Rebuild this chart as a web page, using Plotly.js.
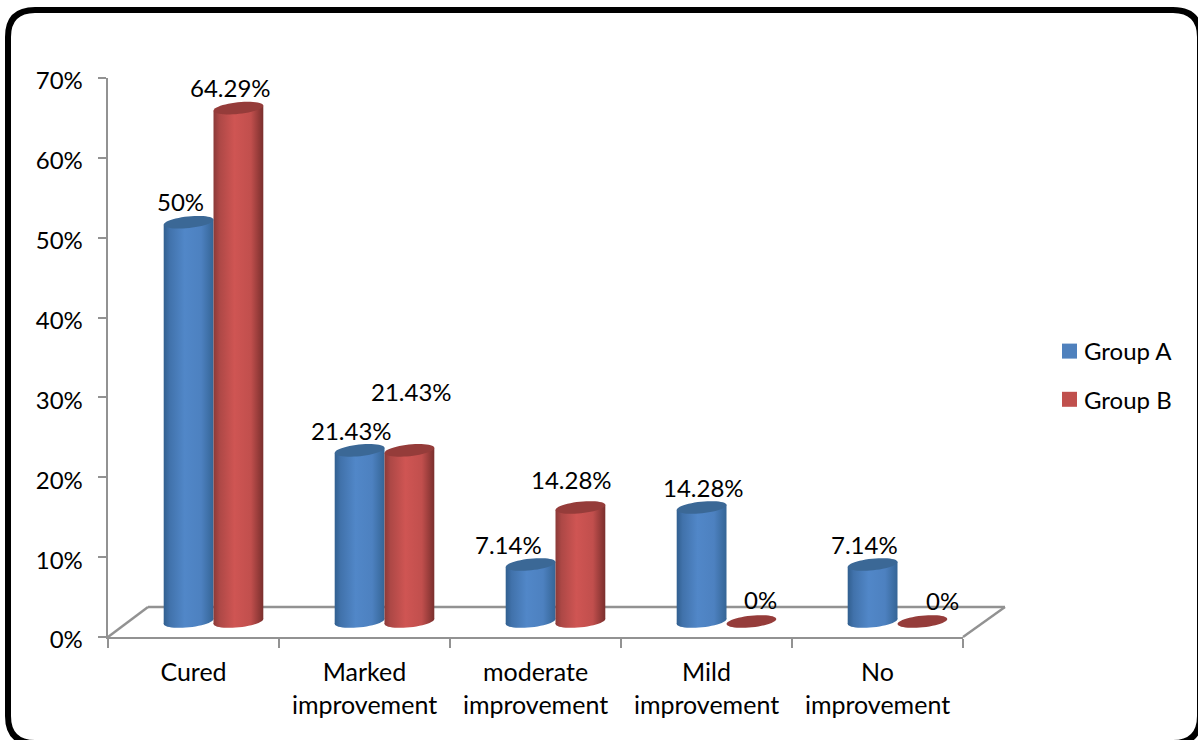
<!DOCTYPE html>
<html>
<head>
<meta charset="utf-8">
<script src="https://cdn.plot.ly/plotly-3.0.1.min.js"></script>
<style>html,body{margin:0;padding:0;background:#fff;overflow:hidden}</style>
</head>
<body>
<div id="chart" style="width:1198px;height:740px"></div>
<script>
// Treatment outcome by group, in percent
const categories = ['Cured', 'Marked<br>improvement', 'moderate<br>improvement', 'Mild<br>improvement', 'No<br>improvement'];
const groupA = [50, 21.43, 7.14, 14.28, 7.14];
const groupB = [64.29, 21.43, 14.28, 0, 0];

// Value-label offsets from the centre of each cylinder's top, in pixels
const labelDxA = [-8, -8, -22, 2, -8];
const labelDyA = [21, 20, 20, 20, 20];
const labelDxB = [-8, 2, -9, 9, 20];
const labelDyB = [21, 59, 28, 22, 21];

const W = 1198, H = 740;
const plot = {l: 108, r: 963, t: 78, b: 637};
const px = x => (x - plot.l) / (plot.r - plot.l);
const py = y => (plot.b - y) / (plot.b - plot.t);

const BLUE = '#4f81bd', RED = '#c0504d', BLUE_TOP = '#3b6896', RED_TOP = '#953c3a';
const AXIS = '#929292';
const FONT = {family: 'Lato, Carlito, sans-serif', size: 24, color: '#000'};
const CATEGORY_FONT = {family: 'Lato, Carlito, sans-serif', size: 25, color: '#000'};

// Cylinder geometry: half bar width, and how the axes are nudged to sit on the 3D floor
const unitPx = plot.r - plot.l;
const bandPx = unitPx / 5;
const halfBar = 24.9;
const ELL_A = 25, ELL_B = 5.8, ELL_TILT = 6 * Math.PI / 180;
const floorShiftX = 20 / bandPx;
const floorShiftY = 15.5 / ((plot.b - plot.t) / 70);

function ellipsePath() {
  const pts = [];
  for (let k = 0; k < 48; k++) {
    const t = k / 48 * 2 * Math.PI;
    const x = ELL_A * Math.cos(ELL_TILT) * Math.cos(t) - ELL_B * Math.sin(ELL_TILT) * Math.sin(t);
    const y = ELL_A * Math.sin(ELL_TILT) * Math.cos(t) + ELL_B * Math.cos(ELL_TILT) * Math.sin(t);
    pts.push((k ? 'L' : 'M') + x.toFixed(2) + ',' + y.toFixed(2));
  }
  return pts.join(' ') + ' Z';
}

function ellipseAt(i, side, value, fill, layer) {
  return {
    type: 'path', xref: 'x2', yref: 'y2', layer: layer,
    xsizemode: 'pixel', ysizemode: 'pixel',
    xanchor: i + side * halfBar / bandPx, yanchor: value,
    path: ellipsePath(), fillcolor: fill, line: {width: 0}
  };
}

function floorLine(x0, y0, x1, y1) {
  return {type: 'line', xref: 'paper', yref: 'paper', layer: 'below',
    x0: px(x0), y0: py(y0), x1: px(x1), y1: py(y1), line: {color: AXIS, width: 2.4}};
}

// Rounded black frame around the whole chart
function framePath() {
  const x0 = 8, y0 = 10, x1 = 1200, y1 = 743, r = 27;
  const p = (x, y) => px(x) + ',' + py(y);
  return 'M' + p(x0 + r, y0) + ' L' + p(x1 - r, y0) +
    ' Q' + p(x1, y0) + ' ' + p(x1, y0 + r) + ' L' + p(x1, y1 - r) +
    ' Q' + p(x1, y1) + ' ' + p(x1 - r, y1) + ' L' + p(x0 + r, y1) +
    ' Q' + p(x0, y1) + ' ' + p(x0, y1 - r) + ' L' + p(x0, y0 + r) +
    ' Q' + p(x0, y0) + ' ' + p(x0 + r, y0) + ' Z';
}

const shapes = [
  {type: 'path', xref: 'paper', yref: 'paper', layer: 'below', path: framePath(),
   line: {color: '#000', width: 6}, fillcolor: 'rgba(0,0,0,0)'},
  floorLine(148, 607, 1005, 607),
  floorLine(108, 637, 148, 607),
  floorLine(963, 637, 1005, 607)
];

// Cylinder bottoms sit under the bars, and take the same shading
const bottomsA = [], bottomsB = [];
categories.forEach((c, i) => {
  if (groupA[i] > 0) { bottomsA.push(shapes.length); shapes.push(ellipseAt(i, -1, 0, BLUE, 'below')); }
  if (groupB[i] > 0) { bottomsB.push(shapes.length); shapes.push(ellipseAt(i, 1, 0, RED, 'below')); }
});
// Cylinder tops
categories.forEach((c, i) => {
  shapes.push(ellipseAt(i, -1, groupA[i], BLUE_TOP, 'above'));
  shapes.push(ellipseAt(i, 1, groupB[i], RED_TOP, 'above'));
});

const annotations = [];
categories.forEach((c, i) => {
  annotations.push({xref: 'x2', yref: 'y2', x: i, y: groupA[i], text: groupA[i] + '%', showarrow: false,
    xshift: -halfBar + labelDxA[i], yshift: labelDyA[i], font: FONT});
  annotations.push({xref: 'x2', yref: 'y2', x: i, y: groupB[i], text: groupB[i] + '%', showarrow: false,
    xshift: halfBar + labelDxB[i], yshift: labelDyB[i], font: FONT});
});

const traces = [
  // Carries the category labels on the visible axis
  {type: 'scatter', mode: 'none', x: categories, y: groupA, xaxis: 'x', yaxis: 'y', showlegend: false, hoverinfo: 'skip'},
  {type: 'bar', name: 'Group A', legendgroup: 'a', x: categories, y: groupA, xaxis: 'x2', yaxis: 'y2',
   marker: {color: BLUE, line: {width: 0}}},
  {type: 'bar', name: 'Group B', legendgroup: 'b', x: categories, y: groupB, xaxis: 'x2', yaxis: 'y2',
   marker: {color: RED, line: {width: 0}}}
];

const layout = {
  width: W, height: H,
  margin: {l: plot.l, r: W - plot.r, t: plot.t, b: H - plot.b, pad: 0, autoexpand: false},
  paper_bgcolor: '#fff', plot_bgcolor: 'rgba(0,0,0,0)',
  font: FONT,
  barmode: 'group', bargap: 0.4175, bargroupgap: 0,
  showlegend: true,
  legend: {x: px(1044), xanchor: 'left', y: py(329), yanchor: 'top', traceorder: 'grouped',
    tracegroupgap: 14, borderwidth: 0, bgcolor: 'rgba(0,0,0,0)', font: FONT, itemclick: false, itemdoubleclick: false},
  xaxis: {type: 'category', categoryorder: 'array', categoryarray: categories, range: [-0.5, 4.5], tickson: 'boundaries',
    ticks: 'outside', ticklen: 9, tickwidth: 2, tickcolor: AXIS, showline: true, linecolor: AXIS, linewidth: 2.4,
    showgrid: false, zeroline: false, tickfont: CATEGORY_FONT, ticklabelstandoff: 12},
  yaxis: {range: [0, 70], tickmode: 'array', tickvals: [0, 10, 20, 30, 40, 50, 60, 70], ticktext: ['0%', '10%', '20%', '30%', '40%', '50%', '60%', '70%'],
    ticks: 'outside', ticklen: 8, tickwidth: 2, tickcolor: AXIS, showline: true, linecolor: AXIS, linewidth: 2.4,
    showgrid: false, zeroline: false, tickfont: FONT, ticklabelstandoff: 10, ticklabelshift: 3},
  xaxis2: {type: 'category', categoryorder: 'array', categoryarray: categories, overlaying: 'x', anchor: 'y2', visible: false,
    range: [-0.5 - floorShiftX, 4.5 - floorShiftX]},
  yaxis2: {overlaying: 'y', anchor: 'x2', visible: false, range: [-floorShiftY, 70 - floorShiftY]},
  shapes: shapes,
  annotations: annotations
};

// Horizontal shading that rounds the cylinders
const shades = {
  'shade-a': [[0, '#315f8f'], [0.12, '#4172ab'], [0.42, '#5187c8'], [0.75, '#4d81c0'], [1, '#356596']],
  'shade-b': [[0, '#8b3a38'], [0.12, '#ad4846'], [0.42, '#cf5553'], [0.75, '#c14f4d'], [1, '#7a2f2d']]
};

function addShades(gd) {
  const NS = 'http://www.w3.org/2000/svg';
  const defs = gd.querySelector('.main-svg defs');
  Object.keys(shades).forEach(id => {
    const g = document.createElementNS(NS, 'linearGradient');
    g.setAttribute('id', id);
    g.setAttribute('x1', '0'); g.setAttribute('x2', '1'); g.setAttribute('y1', '0'); g.setAttribute('y2', '0');
    shades[id].forEach(([o, c]) => {
      const s = document.createElementNS(NS, 'stop');
      s.setAttribute('offset', o); s.setAttribute('stop-color', c);
      g.appendChild(s);
    });
    defs.appendChild(g);
  });

  const series = gd.querySelectorAll('.barlayer .trace.bars');
  ['shade-a', 'shade-b'].forEach((id, n) => {
    if (!series[n]) return;
    series[n].querySelectorAll('.point path').forEach(p => {
      p.style.fill = 'url(#' + id + ')';
      // Tilt the ends of each bar so they line up with the slanted caps
      const m = (p.getAttribute('d') || '').match(/^M([\d.-]+),([\d.-]+)V([\d.-]+)H([\d.-]+)V([\d.-]+)Z$/);
      if (m) {
        const rise = ELL_A * Math.sin(ELL_TILT);
        p.setAttribute('d', 'M' + m[1] + ',' + (+m[2] + rise) + 'V' + (+m[3] + rise) +
          'L' + m[4] + ',' + (+m[3] - rise) + 'V' + (+m[5] - rise) + 'Z');
      }
    });
  });
  const paintBottoms = (list, id) => list.forEach(k => {
    const el = gd.querySelector('.shapelayer path[data-index="' + k + '"]');
    if (el) el.style.fill = 'url(#' + id + ')';
  });
  paintBottoms(bottomsA, 'shade-a');
  paintBottoms(bottomsB, 'shade-b');

  // Larger legend keys
  gd.querySelectorAll('.legend .legendpoints path').forEach(p => {
    p.setAttribute('d', 'M13,7.5H-2V-7.5H13Z');
  });
}

Plotly.newPlot('chart', traces, layout, {staticPlot: true, displayModeBar: false}).then(addShades);
</script>
</body>
</html>
